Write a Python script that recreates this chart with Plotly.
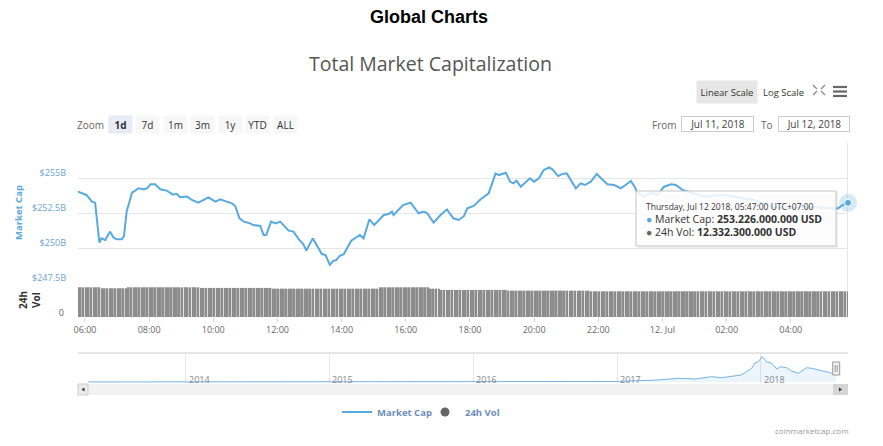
import numpy as np
import pandas as pd
import plotly.graph_objects as go

# Total market cap, Jul 11-12 2018 (billions USD)
mc_time = [
    "2018-07-11 05:47", "2018-07-11 05:51", "2018-07-11 06:03", "2018-07-11 06:13", "2018-07-11 06:19",
    "2018-07-11 06:27", "2018-07-11 06:31", "2018-07-11 06:38", "2018-07-11 06:47", "2018-07-11 06:53",
    "2018-07-11 06:59", "2018-07-11 07:09", "2018-07-11 07:13", "2018-07-11 07:18", "2018-07-11 07:28",
    "2018-07-11 07:34", "2018-07-11 07:40", "2018-07-11 07:49", "2018-07-11 07:56", "2018-07-11 08:03",
    "2018-07-11 08:11", "2018-07-11 08:21", "2018-07-11 08:33", "2018-07-11 08:44", "2018-07-11 08:52",
    "2018-07-11 08:58", "2018-07-11 09:11", "2018-07-11 09:20", "2018-07-11 09:32", "2018-07-11 09:42",
    "2018-07-11 09:51", "2018-07-11 10:04", "2018-07-11 10:13", "2018-07-11 10:25", "2018-07-11 10:35",
    "2018-07-11 10:41", "2018-07-11 10:49", "2018-07-11 10:57", "2018-07-11 11:09", "2018-07-11 11:15",
    "2018-07-11 11:28", "2018-07-11 11:34", "2018-07-11 11:39", "2018-07-11 11:48", "2018-07-11 11:56",
    "2018-07-11 12:05", "2018-07-11 12:21", "2018-07-11 12:30", "2018-07-11 12:40", "2018-07-11 12:48",
    "2018-07-11 12:54", "2018-07-11 13:06", "2018-07-11 13:15", "2018-07-11 13:23", "2018-07-11 13:30",
    "2018-07-11 13:38", "2018-07-11 13:44", "2018-07-11 13:50", "2018-07-11 13:56", "2018-07-11 14:04",
    "2018-07-11 14:18", "2018-07-11 14:29", "2018-07-11 14:34", "2018-07-11 14:41", "2018-07-11 14:52",
    "2018-07-11 15:01", "2018-07-11 15:09", "2018-07-11 15:19", "2018-07-11 15:28", "2018-07-11 15:34",
    "2018-07-11 15:37", "2018-07-11 15:55", "2018-07-11 16:09", "2018-07-11 16:24", "2018-07-11 16:34",
    "2018-07-11 16:40", "2018-07-11 16:52", "2018-07-11 17:05", "2018-07-11 17:17", "2018-07-11 17:29",
    "2018-07-11 17:39", "2018-07-11 17:49", "2018-07-11 17:55", "2018-07-11 18:07", "2018-07-11 18:20",
    "2018-07-11 18:26", "2018-07-11 18:35", "2018-07-11 18:48", "2018-07-11 18:54", "2018-07-11 19:07",
    "2018-07-11 19:15", "2018-07-11 19:21", "2018-07-11 19:27", "2018-07-11 19:35", "2018-07-11 19:44",
    "2018-07-11 19:52", "2018-07-11 20:00", "2018-07-11 20:09", "2018-07-11 20:18", "2018-07-11 20:28",
    "2018-07-11 20:34", "2018-07-11 20:45", "2018-07-11 20:53", "2018-07-11 21:01", "2018-07-11 21:18",
    "2018-07-11 21:27", "2018-07-11 21:35", "2018-07-11 21:46", "2018-07-11 21:57", "2018-07-11 22:10",
    "2018-07-11 22:17", "2018-07-11 22:30", "2018-07-11 22:42", "2018-07-11 22:51", "2018-07-11 23:01",
    "2018-07-11 23:08", "2018-07-11 23:13", "2018-07-11 23:25", "2018-07-11 23:38", "2018-07-11 23:51",
    "2018-07-12 00:03", "2018-07-12 00:16", "2018-07-12 00:25", "2018-07-12 00:38", "2018-07-12 01:18",
    "2018-07-12 01:55", "2018-07-12 02:51", "2018-07-12 03:23", "2018-07-12 03:48", "2018-07-12 04:25",
    "2018-07-12 05:03", "2018-07-12 05:28", "2018-07-12 05:37", "2018-07-12 05:47",
]
mc_val = [
    254.02, 253.95, 253.79, 253.31, 253.24, 250.38, 250.69, 250.57, 251.17, 250.76,
    250.62, 250.62, 250.86, 252.60, 253.95, 254.10, 254.26, 254.19, 254.26, 254.55,
    254.55, 254.19, 254.10, 253.83, 253.86, 253.62, 253.67, 253.43, 253.24, 253.43,
    253.62, 253.31, 253.48, 253.31, 253.19, 253.00, 252.12, 251.88, 251.76, 251.64,
    251.57, 250.93, 250.93, 251.88, 251.76, 251.88, 251.24, 251.17, 250.62, 250.29,
    249.81, 250.69, 250.10, 249.57, 249.50, 248.79, 249.07, 249.14, 249.43, 249.55,
    250.52, 250.76, 250.93, 250.69, 252.05, 251.64, 251.95, 252.36, 252.43, 252.60,
    252.36, 253.07, 253.24, 252.48, 252.60, 252.48, 251.81, 252.36, 252.76, 252.12,
    252.00, 252.29, 252.83, 253.00, 253.48, 253.67, 253.90, 255.33, 255.21, 255.38,
    254.74, 254.62, 254.81, 254.38, 254.67, 254.98, 254.74, 254.98, 255.57, 255.76,
    255.62, 255.14, 255.29, 255.33, 254.26, 254.62, 254.50, 254.74, 255.29, 254.81,
    254.55, 254.50, 254.26, 254.50, 254.79, 254.38, 253.95, 253.67, 253.95, 253.79,
    254.38, 254.55, 254.50, 254.14, 253.67, 253.79, 253.43, 252.95, 252.83, 252.95,
    252.90, 252.83, 253.07, 253.226,
]

# 24h volume (billions USD), one bar every 5 minutes: levels and how many bars sit at each
vol_level = [14.25, 13.8, 14.25, 13.95, 13.6, 14.25, 13.6, 13.0, 12.65, 12.3323]
vol_run = [9, 10, 27, 27, 40, 19, 4, 25, 31, 97]

# navigator: whole history (billions USD)
nav_date = [
    "2013-04-28", "2013-11-01", "2013-12-04", "2014-01-01", "2014-06-01", "2015-01-01",
    "2015-07-01", "2016-01-01", "2016-07-01", "2016-12-27", "2017-04-16", "2017-06-06",
    "2017-07-18", "2017-08-29", "2017-09-24", "2017-11-13", "2017-12-09", "2017-12-17",
    "2017-12-26", "2018-01-05", "2018-01-16", "2018-01-29", "2018-02-11", "2018-02-20",
    "2018-03-08", "2018-03-20", "2018-04-07", "2018-04-28", "2018-05-11", "2018-05-28",
    "2018-06-14", "2018-07-04", "2018-07-12",
]
nav_val = [
    1.6, 2.5, 15, 10, 8, 5, 4, 7, 11, 17, 66, 121, 98, 174, 141, 230, 449, 613,
    666, 830, 666, 613, 426, 502, 469, 361, 285, 469, 449, 394, 361, 285, 253,
]

tick_time = ["2018-07-11 06:00", "2018-07-11 08:00", "2018-07-11 10:00", "2018-07-11 12:00",
             "2018-07-11 14:00", "2018-07-11 16:00", "2018-07-11 18:00", "2018-07-11 20:00",
             "2018-07-11 22:00", "2018-07-12 00:00", "2018-07-12 02:00", "2018-07-12 04:00"]
tick_text = ["06:00", "08:00", "10:00", "12:00", "14:00", "16:00", "18:00", "20:00",
             "22:00", "12. Jul", "02:00", "04:00"]
cap_ticks = [247.5, 250, 252.5, 255, 257.5]
cap_text = ["$247.5B", "$250B", "$252.5B", "$255B", ""]
year_ticks = ["2014-01-01", "2015-01-01", "2016-01-01", "2017-01-01", "2018-01-01"]
year_text = ["2014", "2015", "2016", "2017", "2018"]
zoom_buttons = ["1d", "7d", "1m", "3m", "1y", "YTD", "ALL"]

vol_time = pd.date_range("2018-07-11 05:47", periods=sum(vol_run), freq="5min")
vol_val = np.repeat(vol_level, vol_run)

BLUE = "#58a9e0"
FONT = "Open Sans, sans-serif"

# the page body has an 8px margin, so the figure is 875x438 and starts at (8, 8).
# plot area on screen: left 78, right 848, top 143, bottom 395
def fx(p):
    return (p - 78) / 770

def fy(p):
    return (395 - p) / 252

fig = go.Figure()
fig.add_trace(go.Scatter(x=mc_time, y=mc_val, mode="lines", name="Market Cap", legendwidth=43,
                         line=dict(color=BLUE, width=2), xaxis="x", yaxis="y"))
fig.add_trace(go.Bar(x=vol_time, y=vol_val, name="24h Vol", showlegend=False,
                     marker=dict(color="#8c8c8c", line=dict(width=0)), xaxis="x", yaxis="y2"))
fig.add_trace(go.Scatter(x=[None], y=[None], mode="markers", name="24h Vol",
                         marker=dict(color="#666666", size=9), xaxis="x", yaxis="y2"))
fig.add_trace(go.Scatter(x=[mc_time[-1]], y=[mc_val[-1]], mode="markers", showlegend=False,
                         cliponaxis=False, marker=dict(color="rgba(88,169,224,0.25)", size=18),
                         xaxis="x", yaxis="y"))
fig.add_trace(go.Scatter(x=[mc_time[-1]], y=[mc_val[-1]], mode="markers", showlegend=False,
                         cliponaxis=False, marker=dict(color=BLUE, size=7, line=dict(color="white", width=1)),
                         xaxis="x", yaxis="y"))
fig.add_trace(go.Scatter(x=nav_date, y=nav_val, mode="lines", showlegend=False,
                         line=dict(color="#74b3e6", width=1), fill="tozeroy",
                         fillcolor="rgba(124,181,236,0.14)", xaxis="x3", yaxis="y3"))

shapes = [
    dict(type="line", xref="x", yref="paper", x0=mc_time[-1], x1=mc_time[-1], y0=fy(290), y1=1,
         line=dict(color="#cccccc", width=1), layer="below"),
    dict(type="line", xref="paper", yref="paper", x0=0, x1=1, y0=fy(353), y1=fy(353),
         line=dict(color="#cccccc", width=1)),
    # scrollbar
    dict(type="rect", xref="paper", yref="paper", x0=0, x1=1, y0=fy(395), y1=fy(384),
         fillcolor="#f2f2f2", line=dict(width=0)),
    dict(type="rect", xref="paper", yref="paper", x0=fx(78), x1=fx(88), y0=fy(395), y1=fy(384),
         fillcolor="#ebebeb", line=dict(color="#cccccc", width=1)),
    dict(type="rect", xref="paper", yref="paper", x0=fx(833), x1=fx(848), y0=fy(395), y1=fy(384),
         fillcolor="#d5d5d5", line=dict(width=0)),
    dict(type="path", xref="paper", yref="paper", fillcolor="#333333", line=dict(width=0),
         path=f"M{fx(84.5)},{fy(387.5)} L{fx(84.5)},{fy(391.5)} L{fx(81.5)},{fy(389.5)} Z"),
    dict(type="path", xref="paper", yref="paper", fillcolor="#333333", line=dict(width=0),
         path=f"M{fx(839)},{fy(387.5)} L{fx(839)},{fy(391.5)} L{fx(842)},{fy(389.5)} Z"),
    # navigator handle
    dict(type="rect", xref="x3", yref="paper", xsizemode="pixel", xanchor=nav_date[-1],
         x0=-3.5, x1=3.5, y0=fy(375), y1=fy(362), fillcolor="#f2f2f2",
         line=dict(color="#999999", width=1)),
    dict(type="line", xref="x3", yref="paper", xsizemode="pixel", xanchor=nav_date[-1],
         x0=-1, x1=-1, y0=fy(372), y1=fy(365), line=dict(color="#999999", width=1)),
    dict(type="line", xref="x3", yref="paper", xsizemode="pixel", xanchor=nav_date[-1],
         x0=1, x1=1, y0=fy(372), y1=fy(365), line=dict(color="#999999", width=1)),
    # tooltip box
    dict(type="rect", xref="paper", yref="paper", x0=fx(638), x1=fx(838), y0=fy(248), y1=fy(193),
         fillcolor="rgba(0,0,0,0.06)", line=dict(width=0)),
    dict(type="rect", xref="paper", yref="paper", x0=fx(636), x1=fx(836), y0=fy(246), y1=fy(191),
         fillcolor="rgba(255,255,255,0.86)", line=dict(color="#c4c4c4", width=1)),
]
# hamburger menu
for yy in (87, 91.5, 96):
    shapes.append(dict(type="line", xref="paper", yref="paper", x0=fx(833), x1=fx(847),
                       y0=fy(yy), y1=fy(yy), line=dict(color="#666666", width=2.2)))
# fullscreen icon
for (ax, ay, bx, by) in [(813, 85, 817, 89), (825, 85, 821, 89), (813, 95, 817, 91), (825, 95, 821, 91)]:
    shapes.append(dict(type="line", xref="paper", yref="paper", x0=fx(ax), x1=fx(bx),
                       y0=fy(ay), y1=fy(by), line=dict(color="#888888", width=1.2)))

ann = []

def label(x, y, text, size=10, color="#333333", anchor="center", **kw):
    d = dict(xref="paper", yref="paper", x=fx(x), y=fy(y), text=text, showarrow=False,
             xanchor=anchor, yanchor="middle", font=dict(size=size, color=color, family=FONT))
    d.update(kw)
    ann.append(d)

label(429, 17, "<b>Global Charts</b>", 18, "#000000")
ann[-1]["font"]["family"] = "Liberation Sans, Arial, sans-serif"
label(430, 63, "Total Market Capitalization", 19.5, "#555555")

label(727, 92, "Linear Scale", 9.5, bgcolor="#e6e6e6", width=60, height=22, borderpad=0)
label(783, 92, "Log Scale", 9.5)

label(90, 124.5, "Zoom", 10, "#666666")
for i, b in enumerate(zoom_buttons):
    sel = i == 0
    label(120 + 27.5 * i, 124.5, f"<b>{b}</b>" if sel else b, 10,
          bgcolor="#e6ebf5" if sel else "#f7f7f7", width=23, height=17, borderpad=0)

label(664, 124.5, "From", 10, "#666666")
label(717, 124, "Jul 11, 2018", 10, "#444444", bgcolor="white", bordercolor="#cccccc",
      borderwidth=1, borderpad=0, width=71, height=14)
label(767, 124.5, "To", 10, "#666666")
label(813.5, 124, "Jul 12, 2018", 10, "#444444", bgcolor="white", bordercolor="#cccccc",
      borderwidth=1, borderpad=0, width=70, height=14)

label(18, 213, "<b>Market Cap</b>", 9.5, "#5aa8de", textangle=-90)
label(29, 300, "<b>24h<br>Vol</b>", 10, "#333333", textangle=-90)

# navigator year labels
for d, t in zip(year_ticks, year_text):
    ann.append(dict(xref="x3", yref="paper", x=d, y=fy(379), text=t, showarrow=False,
                    xanchor="left", yanchor="middle", xshift=1,
                    font=dict(size=9, color="#888888", family=FONT)))

# tooltip text
t_last = pd.Timestamp(mc_time[-1])
def usd(v):
    return f"{v * 1e9:,.0f}".replace(",", ".") + " USD"
label(644, 206, t_last.strftime("%A, %b %d %Y, %H:%M:%S") + " UTC+07:00", 8.5, anchor="left")
label(644, 218.5, f"<span style='color:{BLUE}'>●</span> Market Cap: <b>{usd(mc_val[-1])}</b>",
      10.5, anchor="left")
label(644, 231.5, f"<span style='color:#666666'>●</span> 24h Vol: <b>{usd(vol_val[-1])}</b>",
      10.5, anchor="left")

label(851, 430, "coinmarketcap.com", 8, "#999999", anchor="right")

fig.update_layout(
    width=875, height=438,
    margin=dict(l=70, r=35, t=135, b=51),
    paper_bgcolor="white", plot_bgcolor="white",
    font=dict(family=FONT, size=10, color="#333333"),
    bargap=0.3,
    showlegend=True,
    legend=dict(orientation="h", x=fx(421), y=fy(412), xanchor="center", yanchor="middle",
                font=dict(size=9.5, color="#6f8cba", weight=700), itemwidth=30),
    xaxis=dict(domain=[0, 1], anchor="y2", type="date",
               range=[mc_time[0], mc_time[-1]],
               tickvals=tick_time, ticktext=tick_text, ticks="outside", ticklen=4,
               tickcolor="#ccd6eb", tickfont=dict(size=9, color="#666666"),
               showgrid=False, zeroline=False, showline=False),
    yaxis=dict(domain=[fy(283), 1], anchor="x", range=[247.5, 257.5],
               tickvals=cap_ticks, ticktext=cap_text, gridcolor="#e6e6e6",
               tickfont=dict(size=9, color="#6ba3d8"), ticklabelshift=-5,
               ticklabelstandoff=11, zeroline=False, showline=False),
    yaxis2=dict(domain=[fy(317), fy(285)], anchor="x", range=[0, 15.35],
                tickvals=[0], ticktext=["0"], showgrid=False, zeroline=False,
                tickfont=dict(size=9, color="#666666"), ticklabelshift=-4, ticklabelstandoff=13),
    xaxis3=dict(domain=[0, 1], anchor="y3", type="date", range=["2013-04-02", "2018-08-11"],
                tickvals=year_ticks, showticklabels=False, showgrid=True, gridcolor="#e6e6e6",
                zeroline=False, showline=False),
    yaxis3=dict(domain=[fy(383), fy(353)], anchor="x3", range=[-32.8, 951],
                showticklabels=False, showgrid=False, zeroline=False),
    shapes=shapes,
    annotations=ann,
)

fig.write_html("out.html")
